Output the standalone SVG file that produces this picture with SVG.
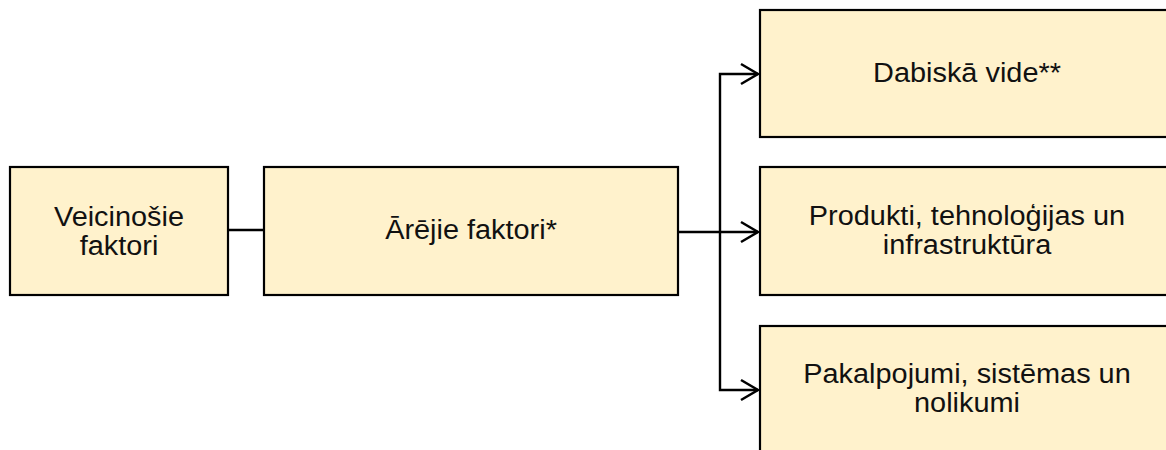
<svg xmlns="http://www.w3.org/2000/svg" width="1166" height="450" viewBox="0 0 1166 450">
  <defs>
    <marker id="arrow" markerUnits="userSpaceOnUse" markerWidth="30" markerHeight="30" viewBox="-20 -15 30 30" refX="0" refY="0" orient="auto" overflow="visible">
      <path d="M-17,-10 L0,0 L-17,10" fill="none" stroke="#000" stroke-width="2.5"/>
    </marker>
  </defs>
  <style>
    .box { fill: #fff2cc; stroke: #000; stroke-width: 2.2; }
    .lbl { font-family: "Liberation Sans", Arial, sans-serif; font-size: 27px; fill: #111; text-anchor: middle; }
    .con { fill: none; stroke: #000; stroke-width: 2.4; }
  </style>
  <rect width="1166" height="450" fill="#fff"/>
  <g id="connectors">
    <line class="con" x1="228" y1="230" x2="264" y2="230"/>
    <line class="con" x1="678" y1="232" x2="720" y2="232" stroke-width="4"/>
    <polyline class="con" points="720,232 720,74 758,74" marker-end="url(#arrow)"/>
    <line class="con" x1="720" y1="232" x2="758" y2="232" marker-end="url(#arrow)"/>
    <polyline class="con" points="720,232 720,390 758,390" marker-end="url(#arrow)"/>
  </g>
  <g id="node-veicinosie">
    <rect class="box" x="10" y="167" width="218" height="128"/>
    <text class="lbl" transform="translate(119,226) scale(1.07,1)">Veicinošie</text>
    <text class="lbl" transform="translate(119,255) scale(1.07,1)">faktori</text>
  </g>
  <g id="node-arejie">
    <rect class="box" x="264" y="167" width="414" height="128"/>
    <text class="lbl" transform="translate(471,239) scale(1.07,1)">Ārējie faktori*</text>
  </g>
  <g id="node-dabiska">
    <rect class="box" x="760" y="10" width="414" height="127"/>
    <text class="lbl" transform="translate(967,82) scale(1.07,1)">Dabiskā vide**</text>
  </g>
  <g id="node-produkti">
    <rect class="box" x="760" y="167" width="414" height="128"/>
    <text class="lbl" transform="translate(967,225) scale(1.07,1)">Produkti, tehnoloģijas un</text>
    <text class="lbl" transform="translate(967,254) scale(1.07,1)">infrastruktūra</text>
  </g>
  <g id="node-pakalpojumi">
    <rect class="box" x="760" y="326" width="414" height="128"/>
    <text class="lbl" transform="translate(967,383) scale(1.07,1)">Pakalpojumi, sistēmas un</text>
    <text class="lbl" transform="translate(967,412) scale(1.07,1)">nolikumi</text>
  </g>
</svg>
